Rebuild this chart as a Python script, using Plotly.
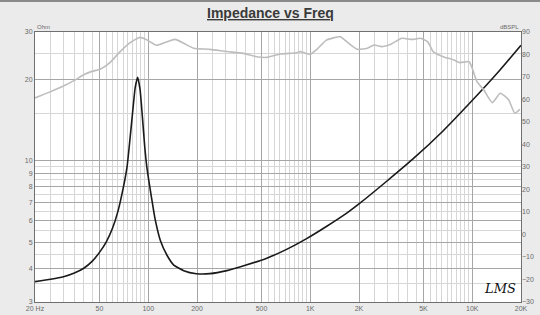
import plotly.graph_objects as go

# ---- data ----
imp_freq = [20, 25, 30, 35, 40, 45, 50, 55, 60, 65, 70, 74, 77, 80, 83, 86, 89, 92, 95, 98,
            102.6, 106, 110.5, 118.8, 130.8, 143.8, 165.6, 198, 240, 306, 402, 539, 720, 950,
            1258, 1679, 2026, 2978, 4309, 6601, 9690, 14840, 20000]
imp_ohm = [3.57, 3.64, 3.72, 3.84, 4.0, 4.24, 4.58, 5.0, 5.6, 6.5, 7.9, 9.5, 11.9, 15.0, 18.6, 20.4,
           18.4, 14.6, 11.4, 9.5, 7.9, 7.0, 6.04, 5.07, 4.46, 4.11, 3.92, 3.82, 3.82, 3.92, 4.11,
           4.36, 4.71, 5.15, 5.71, 6.40, 6.97, 8.42, 10.16, 12.9, 16.4, 21.7, 26.8]

spl_freq = [20, 25, 30, 35, 40, 45, 50.4, 58, 67.1, 77.3, 88.9, 97, 112.4, 127, 146.5, 165.6, 190.8,
            240.6, 306, 387, 466, 539, 652, 827, 866, 1000, 1100, 1258, 1532, 1680, 1950, 2250,
            2480, 2740, 3170, 3670, 4250, 4800, 5300, 5740, 6620, 7700, 8380, 9560, 10000, 10700,
            11800, 13300, 14900, 16800, 18300, 19700]
spl_db = [60.7, 63.5, 66.0, 68.5, 71.0, 72.5, 73.4, 76.4, 81.3, 85.3, 87.6, 86.7, 84.1, 85.3, 86.7,
          85.0, 82.8, 82.3, 81.3, 80.5, 79.0, 78.7, 80.2, 80.8, 81.3, 80.1, 82.3, 86.4, 87.9, 85.7,
          82.3, 82.8, 84.2, 83.5, 84.7, 87.2, 86.7, 87.2, 85.7, 81.3, 79.0, 77.6, 76.4, 76.8, 73.9,
          67.9, 64.2, 58.6, 62.8, 59.8, 53.9, 55.6]

x_tickvals = [20, 50, 100, 200, 500, 1000, 2000, 5000, 10000, 20000]
x_ticktext = ["20 Hz", "50", "100", "200", "500", "1K", "2K", "5K", "10K", "20K"]
y_tickvals = [3, 4, 5, 6, 7, 8, 9, 10, 20, 30]
y_ticktext = ["3", "4", "5", "6", "7", "8", "9", "10", "20", "30"]
y2_tickvals = [-30, -20, -10, 0, 10, 20, 30, 40, 50, 60, 70, 80, 90]

mults = [2, 2.5, 3, 3.5, 4, 4.5, 5, 5.5, 6, 6.5, 7, 7.5, 8, 8.5, 9, 9.5, 10]
x_minor = sorted(set(round(m * d, 3) for d in [10, 100, 1000] for m in mults) - set(x_tickvals))
x_minor = [v for v in x_minor if 20 <= v <= 20000]
y_minor = [3.5, 4.5, 5.5, 6.5, 7.5, 8.5, 9.5, 15, 25]

font_fam = "Liberation Sans, Arial, sans-serif"
lab_col = "#6a6a6a"

fig = go.Figure()
fig.add_trace(go.Scatter(x=spl_freq, y=spl_db, yaxis="y2", mode="lines",
                         line=dict(color="#bdbdbd", width=1.6, shape="spline", smoothing=0.5),
                         hoverinfo="skip", showlegend=False))
fig.add_trace(go.Scatter(x=imp_freq, y=imp_ohm, mode="lines",
                         line=dict(color="#1a1a1a", width=1.6, shape="spline", smoothing=0.5),
                         hoverinfo="skip", showlegend=False))

fig.update_layout(
    width=540, height=315,
    margin=dict(l=35, r=19, t=32, b=13),
    paper_bgcolor="#ebebeb", plot_bgcolor="#ffffff",
    font=dict(family=font_fam, size=7, color=lab_col),
    xaxis=dict(type="log", range=[1.30103, 4.30103], tickvals=x_tickvals, ticktext=x_ticktext,
               showgrid=True, gridcolor="#a6a6a6", gridwidth=1,
               minor=dict(tickvals=x_minor, showgrid=True, gridcolor="#d6d6d6", gridwidth=1, ticks=""),
               showline=True, linecolor="#707070", linewidth=1, mirror=True,
               ticks="", tickfont=dict(size=7, color=lab_col), zeroline=False, automargin=False,
               ticklabelstandoff=0),
    yaxis=dict(type="log", range=[0.4771213, 1.4771213], tickvals=y_tickvals, ticktext=y_ticktext,
               showgrid=True, gridcolor="#a6a6a6", gridwidth=1,
               minor=dict(tickvals=y_minor, showgrid=True, gridcolor="#d6d6d6", gridwidth=1, ticks=""),
               showline=True, linecolor="#707070", linewidth=1, mirror=True,
               ticks="", tickfont=dict(size=7, color=lab_col), zeroline=False, automargin=False),
    yaxis2=dict(overlaying="y", side="right", anchor="x", range=[-30, 90], tickvals=y2_tickvals,
                showgrid=False, zeroline=False, ticks="", tickfont=dict(size=7, color=lab_col),
                automargin=False),
    annotations=[
        dict(text="<b>Impedance vs Freq</b>", xref="paper", yref="paper", x=0.485, y=1 + 19 / 270,
             xanchor="center", yanchor="middle", showarrow=False,
             font=dict(size=14, color="#3a3a3a", family=font_fam, lineposition="under")),
        dict(text="Ohm", xref="paper", yref="paper", x=0.0, y=1.0, xanchor="left", yanchor="bottom",
             showarrow=False, font=dict(size=6, color=lab_col)),
        dict(text="dBSPL", xref="paper", yref="paper", x=1.0, y=1.0, xanchor="right", yanchor="bottom",
             showarrow=False, font=dict(size=6, color=lab_col)),
        dict(text="<i>LMS</i>", xref="paper", yref="paper", x=0.994, y=0.015, xanchor="right",
             yanchor="bottom", showarrow=False,
             font=dict(size=13, color="#111111", family="DejaVu Serif, serif")),
    ],
    shapes=[
        dict(type="line", xref="paper", yref="paper", x0=-35 / 486, x1=1 + 19 / 486,
             y0=1 + 31 / 270, y1=1 + 31 / 270, line=dict(color="#8a8a8a", width=2)),
    ],
)

fig.write_html("out.html")
